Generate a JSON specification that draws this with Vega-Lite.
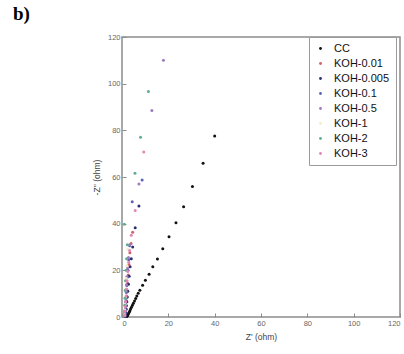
{
  "$schema": "https://vega.github.io/schema/vega-lite/v6.json",
  "width": 278,
  "height": 280,
  "autosize": {"type": "none"},
  "padding": {"left": 122, "top": 37, "right": 4, "bottom": 37},
  "background": "white",
  "title": {"text": "b)", "anchor": "start", "frame": "group", "dx": -109, "offset": 9, "font": "Liberation Serif", "fontSize": 19, "fontWeight": "bold", "color": "#000"},
  "config": {
    "view": {"stroke": "#8c8c8c", "strokeWidth": 1.5},
    "axis": {"grid": false, "domain": false, "tickColor": "#8c8c8c", "tickSize": -4, "tickWidth": 1, "labelFont": "Liberation Sans", "labelFontSize": 7.5, "labelColor": "#666", "titleFont": "Liberation Sans", "titleFontSize": 8.5, "titleFontWeight": "normal", "titleColor": "#444"},
    "legend": {"labelFont": "Liberation Sans"}
  },
  "data": {"values": [
    {"s":"CC","x":2.1,"y":0.2},{"s":"CC","x":2.3,"y":0.5},{"s":"CC","x":2.5,"y":0.9},{"s":"CC","x":2.8,"y":1.4},{"s":"CC","x":3.1,"y":2.0},{"s":"CC","x":3.4,"y":2.7},{"s":"CC","x":3.7,"y":3.4},{"s":"CC","x":4.1,"y":4.2},{"s":"CC","x":4.5,"y":5.0},{"s":"CC","x":4.9,"y":5.9},{"s":"CC","x":5.4,"y":6.9},{"s":"CC","x":5.9,"y":7.9},{"s":"CC","x":6.4,"y":9.0},{"s":"CC","x":7.0,"y":10.2},{"s":"CC","x":7.7,"y":11.5},{"s":"CC","x":8.9,"y":13.6},{"s":"CC","x":10.1,"y":15.8},{"s":"CC","x":11.7,"y":18.3},{"s":"CC","x":13.3,"y":21.5},{"s":"CC","x":15.3,"y":24.9},{"s":"CC","x":17.6,"y":29.2},{"s":"CC","x":20.3,"y":34.4},{"s":"CC","x":23.3,"y":40.4},{"s":"CC","x":26.6,"y":47.3},{"s":"CC","x":30.4,"y":55.9},{"s":"CC","x":35.0,"y":65.9},{"s":"CC","x":40.0,"y":77.6},
    {"s":"KOH-0.01","x":1.3,"y":0.3},{"s":"KOH-0.01","x":1.4,"y":1.2},{"s":"KOH-0.01","x":1.5,"y":2.3},{"s":"KOH-0.01","x":1.6,"y":3.6},{"s":"KOH-0.01","x":1.7,"y":5.1},{"s":"KOH-0.01","x":1.9,"y":6.9},{"s":"KOH-0.01","x":2.0,"y":9.0},{"s":"KOH-0.01","x":2.2,"y":11.5},{"s":"KOH-0.01","x":2.4,"y":14.5},{"s":"KOH-0.01","x":2.7,"y":18.0},{"s":"KOH-0.01","x":3.0,"y":22.5},{"s":"KOH-0.01","x":3.4,"y":27.5},{"s":"KOH-0.01","x":3.9,"y":31.5},{"s":"KOH-0.01","x":4.6,"y":36.3},
    {"s":"KOH-0.005","x":1.4,"y":0.2},{"s":"KOH-0.005","x":1.5,"y":1.0},{"s":"KOH-0.005","x":1.6,"y":2.0},{"s":"KOH-0.005","x":1.8,"y":3.3},{"s":"KOH-0.005","x":1.9,"y":4.8},{"s":"KOH-0.005","x":2.1,"y":6.5},{"s":"KOH-0.005","x":2.3,"y":8.6},{"s":"KOH-0.005","x":2.5,"y":11.0},{"s":"KOH-0.005","x":2.8,"y":14.0},{"s":"KOH-0.005","x":3.1,"y":17.5},{"s":"KOH-0.005","x":3.5,"y":21.5},{"s":"KOH-0.005","x":4.0,"y":25.0},{"s":"KOH-0.005","x":4.6,"y":30.0},{"s":"KOH-0.005","x":5.7,"y":38.3},{"s":"KOH-0.005","x":7.3,"y":47.6},
    {"s":"KOH-0.1","x":1.2,"y":0.4},{"s":"KOH-0.1","x":1.3,"y":1.5},{"s":"KOH-0.1","x":1.4,"y":2.8},{"s":"KOH-0.1","x":1.5,"y":4.3},{"s":"KOH-0.1","x":1.6,"y":6.0},{"s":"KOH-0.1","x":1.8,"y":8.0},{"s":"KOH-0.1","x":1.9,"y":10.5},{"s":"KOH-0.1","x":2.1,"y":13.5},{"s":"KOH-0.1","x":2.3,"y":17.0},{"s":"KOH-0.1","x":2.6,"y":20.0},{"s":"KOH-0.1","x":2.9,"y":24.5},{"s":"KOH-0.1","x":3.3,"y":30.5},{"s":"KOH-0.1","x":4.4,"y":49.4},{"s":"KOH-0.1","x":8.7,"y":58.7},
    {"s":"KOH-0.5","x":1.1,"y":0.5},{"s":"KOH-0.5","x":1.2,"y":1.8},{"s":"KOH-0.5","x":1.3,"y":3.2},{"s":"KOH-0.5","x":1.4,"y":4.8},{"s":"KOH-0.5","x":1.5,"y":6.6},{"s":"KOH-0.5","x":1.6,"y":8.6},{"s":"KOH-0.5","x":1.7,"y":11.0},{"s":"KOH-0.5","x":1.9,"y":13.8},{"s":"KOH-0.5","x":2.1,"y":17.2},{"s":"KOH-0.5","x":2.4,"y":21.0},{"s":"KOH-0.5","x":2.8,"y":25.5},{"s":"KOH-0.5","x":3.3,"y":31.0},{"s":"KOH-0.5","x":7.3,"y":57.0},{"s":"KOH-0.5","x":12.9,"y":88.5},{"s":"KOH-0.5","x":17.9,"y":110.0},
    {"s":"KOH-1","x":1.1,"y":1.0},{"s":"KOH-1","x":1.2,"y":3.0},{"s":"KOH-1","x":1.3,"y":5.5},{"s":"KOH-1","x":1.4,"y":8.5},{"s":"KOH-1","x":1.6,"y":12.0},{"s":"KOH-1","x":1.8,"y":16.5},{"s":"KOH-1","x":2.1,"y":22.0},{"s":"KOH-1","x":2.5,"y":29.0},
    {"s":"KOH-2","x":1.0,"y":0.6},{"s":"KOH-2","x":1.1,"y":2.5},{"s":"KOH-2","x":1.2,"y":5.0},{"s":"KOH-2","x":1.3,"y":8.0},{"s":"KOH-2","x":1.4,"y":11.5},{"s":"KOH-2","x":1.5,"y":15.5},{"s":"KOH-2","x":1.7,"y":20.0},{"s":"KOH-2","x":2.0,"y":25.0},{"s":"KOH-2","x":2.3,"y":31.0},{"s":"KOH-2","x":1.0,"y":39.7},{"s":"KOH-2","x":5.6,"y":61.6},{"s":"KOH-2","x":8.0,"y":77.0},{"s":"KOH-2","x":11.4,"y":96.6},
    {"s":"KOH-3","x":1.2,"y":0.8},{"s":"KOH-3","x":1.3,"y":2.5},{"s":"KOH-3","x":1.4,"y":4.4},{"s":"KOH-3","x":1.6,"y":6.5},{"s":"KOH-3","x":1.8,"y":9.0},{"s":"KOH-3","x":2.0,"y":12.0},{"s":"KOH-3","x":2.2,"y":15.5},{"s":"KOH-3","x":2.5,"y":19.5},{"s":"KOH-3","x":2.9,"y":23.5},{"s":"KOH-3","x":3.3,"y":28.5},{"s":"KOH-3","x":4.0,"y":35.0},{"s":"KOH-3","x":5.7,"y":45.6},{"s":"KOH-3","x":9.4,"y":70.7}
  ]},
  "mark": {"type": "point", "filled": true, "size": 9, "opacity": 1},
  "encoding": {
    "x": {"field": "x", "type": "quantitative", "scale": {"domain": [0, 120], "nice": false}, "axis": {"values": [0,20,40,60,80,100,120], "title": "Z' (ohm)", "titlePadding": 6, "labelPadding": 6}},
    "y": {"field": "y", "type": "quantitative", "scale": {"domain": [0, 120], "nice": false}, "axis": {"values": [0,20,40,60,80,100,120], "title": "-Z'' (ohm)", "titlePadding": 6, "labelPadding": 6}},
    "color": {"field": "s", "type": "nominal",
      "scale": {"domain": ["CC","KOH-0.01","KOH-0.005","KOH-0.1","KOH-0.5","KOH-1","KOH-2","KOH-3"],
                "range": ["#111111","#d0606a","#2b2f6b","#5b62b5","#a07ac0","#f0eccc","#5fae8e","#e386b5"]},
      "legend": {"title": null, "orient": "none", "legendX": 187, "legendY": 0, "strokeColor": "#9a9a9a", "fillColor": "white", "padding": 6, "symbolSize": 8, "symbolType": "circle", "labelFontSize": 11, "labelColor": "#111", "rowPadding": 3, "labelOffset": 8, "offset": 0}
    }
  }
}
